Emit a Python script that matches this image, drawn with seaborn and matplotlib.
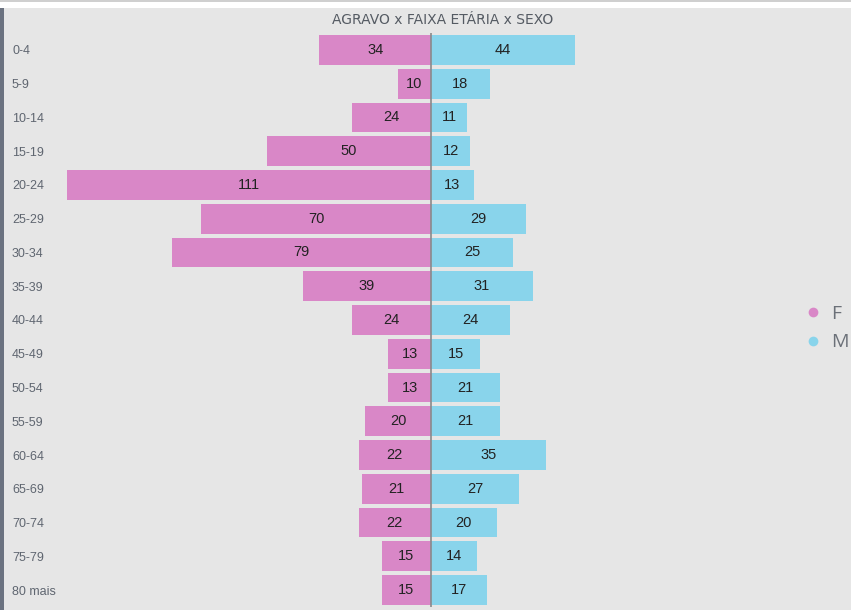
"""Pirâmide AGRAVO x FAIXA ETÁRIA x SEXO."""
import matplotlib
matplotlib.use("Agg")
import matplotlib.pyplot as plt
from matplotlib.lines import Line2D
from matplotlib.patches import Rectangle
import pandas as pd
import seaborn as sns

faixas = ["0-4", "5-9", "10-14", "15-19", "20-24", "25-29", "30-34", "35-39",
          "40-44", "45-49", "50-54", "55-59", "60-64", "65-69", "70-74",
          "75-79", "80 mais"]
feminino = [34, 10, 24, 50, 111, 70, 79, 39, 24, 13, 13, 20, 22, 21, 22, 15, 15]
masculino = [44, 18, 11, 12, 13, 29, 25, 31, 24, 15, 21, 21, 35, 27, 20, 14, 17]
sexos = ["F", "M"]
cores = {"F": "#d987c7", "M": "#89d4eb"}

BG = "#e6e6e6"

df = pd.concat([
    pd.DataFrame({"faixa": faixas, "sexo": "F", "valor": [-v for v in feminino]}),
    pd.DataFrame({"faixa": faixas, "sexo": "M", "valor": masculino}),
])

sns.set_theme(style="white")
plt.rcParams["font.family"] = ["Liberation Sans", "DejaVu Sans"]

fig = plt.figure(figsize=(8.51, 6.10), dpi=100, facecolor=BG)
# white strip on top and dark border on the left, like the screenshot
fig.patches.append(Rectangle((0, 1 - 8 / 610), 1, 8 / 610, transform=fig.transFigure,
                             facecolor="white", edgecolor="none", zorder=0))
fig.patches.append(Rectangle((0, 1 - 1.5 / 610), 1, 1.5 / 610, transform=fig.transFigure,
                             facecolor="#cfcfcf", edgecolor="none", zorder=0))
fig.patches.append(Rectangle((0, 0), 4 / 851, 1 - 8 / 610, transform=fig.transFigure,
                             facecolor="#6b7280", edgecolor="none", zorder=0))

ax = fig.add_axes([62 / 851, 3 / 610, (790 - 62) / 851, (607 - 33) / 610])
ax.set_facecolor(BG)

sns.barplot(data=df, x="valor", y="faixa", hue="sexo", hue_order=sexos,
            palette=cores, dodge=False, orient="h", width=0.88,
            order=faixas, ax=ax, legend=False, saturation=1, linewidth=0)

for cont, vals in zip(ax.containers, [feminino, masculino]):
    ax.bar_label(cont, labels=[str(v) for v in vals], label_type="center",
                 fontsize=10.5, color="#222222")

ax.axvline(0, color="#8a8a8a", lw=1.2, zorder=5)
ax.set_xlim(-112.5, 109.5)
ax.set_ylim(len(faixas) - 0.5, -0.5)
ax.set_xlabel("")
ax.set_ylabel("")
ax.set_xticks([])
for s in ax.spines.values():
    s.set_visible(False)
ax.tick_params(axis="y", length=0, pad=36, labelsize=9, labelcolor="#5f6670")
for t in ax.get_yticklabels():
    t.set_ha("left")

fig.text(443 / 851, 1 - 20 / 610, "AGRAVO x FAIXA ETÁRIA x SEXO",
         ha="center", va="center", fontsize=10, color="#555b63",
         family=["Liberation Sans Narrow", "DejaVu Sans"])

handles = [Line2D([], [], marker="o", ls="", markersize=7,
                  markerfacecolor=cores[s], markeredgecolor="none") for s in sexos]
leg = fig.legend(handles, sexos, loc="center left", bbox_to_anchor=(805 / 851, 1 - 328 / 610),
                 frameon=False, handletextpad=0.55, labelspacing=0.55,
                 handlelength=0.8, borderpad=0, borderaxespad=0,
                 prop={"family": "Open Sans", "size": 14})
for t in leg.get_texts():
    t.set_color("#6b7078")

fig.savefig("out.png", dpi=100, facecolor=fig.get_facecolor())
